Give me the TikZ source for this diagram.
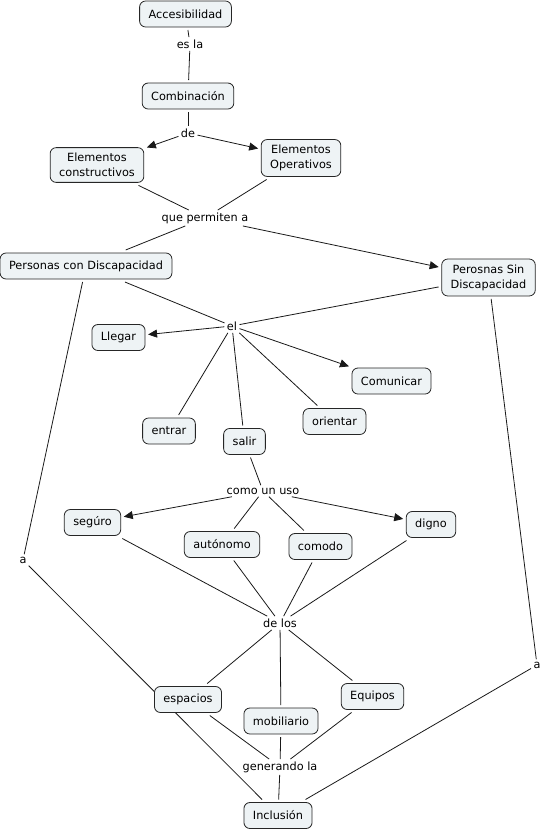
\documentclass[tikz,border=0pt]{standalone}
\usepackage{fontspec}
\setmainfont{DejaVu Sans}
\usetikzlibrary{arrows.meta,backgrounds}
\definecolor{cfill}{RGB}{238,243,245}
\newcommand{\mapfont}{\fontsize{11.3}{15}\selectfont}
\begin{document}
\begin{tikzpicture}[x=1pt,y=-1pt,
  concept/.style={draw=black!85, fill=cfill, rounded corners=6pt, line width=0.8pt,
    inner xsep=9pt, inner ysep=4pt, minimum height=26pt, align=center, font=\mapfont, outer sep=3pt},
  twoline/.style={inner ysep=5.5pt},
  lnk/.style={inner sep=1.5pt, font=\mapfont, outer sep=1pt},
  con/.style={line width=0.8pt, draw=black!90},
  arr/.style={con, -{Triangle[length=9pt,width=8pt]}}]
\useasboundingbox (0,0) rectangle (546,831);
\node[concept] (acc) at (185.5,14) {Accesibilidad};
\node[lnk] (esla) at (190,44) {es la};
\node[concept] (comb) at (188,96) {Combinación};
\node[lnk] (de) at (188,133) {de};
\node[concept,twoline] (ec) at (97,165) {Elementos\\constructivos};
\node[concept,twoline] (eo) at (301,158) {Elementos\\Operativos};
\node[lnk] (qpa) at (205,218) {que permiten a};
\node[concept] (pcd) at (86,266) {Personas con Discapacidad};
\node[concept,twoline] (psd) at (488.5,277.5) {Perosnas Sin\\Discapacidad};
\node[lnk] (el) at (232,326) {el};
\node[concept] (lle) at (118.5,337.5) {Llegar};
\node[concept] (com) at (391.5,381) {Comunicar};
\node[concept] (ent) at (169,431) {entrar};
\node[concept] (sal) at (244.5,441.5) {salir};
\node[concept] (ori) at (334.5,421.5) {orientar};
\node[lnk] (cuu) at (263,491) {como un uso};
\node[concept] (seg) at (92.5,522.5) {segúro};
\node[concept] (aut) at (222,544.5) {autónomo};
\node[concept] (cmd) at (320.5,546.5) {comodo};
\node[concept] (dig) at (431,524.5) {digno};
\node[lnk] (delos) at (280,623) {de los};
\node[concept] (esp) at (188,699.5) {espacios};
\node[concept] (mob) at (281,721) {mobiliario};
\node[concept] (equ) at (372.5,696.5) {Equipos};
\node[lnk] (gen) at (280,767) {generando la};
\node[concept] (inc) at (278,815.5) {Inclusión};
\node[lnk] (a1) at (23,560) {a};
\node[lnk] (a2) at (537,665) {a};
\begin{pgfonlayer}{background}
\draw[con] (acc) -- (esla);
\draw[con] (esla) -- (comb);
\draw[con] (comb) -- (de);
\draw[arr] (de) -- (ec);
\draw[arr] (de) -- (eo);
\draw[con] (ec) -- (qpa);
\draw[con] (eo) -- (qpa);
\draw[con] (qpa) -- (pcd);
\draw[arr] (qpa) -- (psd);
\draw[con] (pcd) -- (el);
\draw[con] (psd) -- (el);
\draw[arr] (el) -- (lle);
\draw[arr] (el) -- (com);
\draw[con] (el) -- (ent);
\draw[con] (el) -- (sal);
\draw[con] (el) -- (ori);
\draw[con] (sal) -- (cuu);
\draw[arr] (cuu) -- (seg);
\draw[arr] (cuu) -- (dig);
\draw[con] (cuu) -- (aut);
\draw[con] (cuu) -- (cmd);
\draw[con] (seg) -- (delos);
\draw[con] (aut) -- (delos);
\draw[con] (cmd) -- (delos);
\draw[con] (dig) -- (delos);
\draw[con] (delos) -- (esp);
\draw[con] (delos) -- (mob);
\draw[con] (delos) -- (equ);
\draw[con] (esp) -- (gen);
\draw[con] (mob) -- (gen);
\draw[con] (equ) -- (gen);
\draw[con] (gen) -- (inc);
\draw[con] (pcd) -- (a1);
\draw[con] (a1) -- (inc);
\draw[con] (psd) -- (a2);
\draw[con] (a2) -- (inc);
\end{pgfonlayer}
\end{tikzpicture}
\end{document}
